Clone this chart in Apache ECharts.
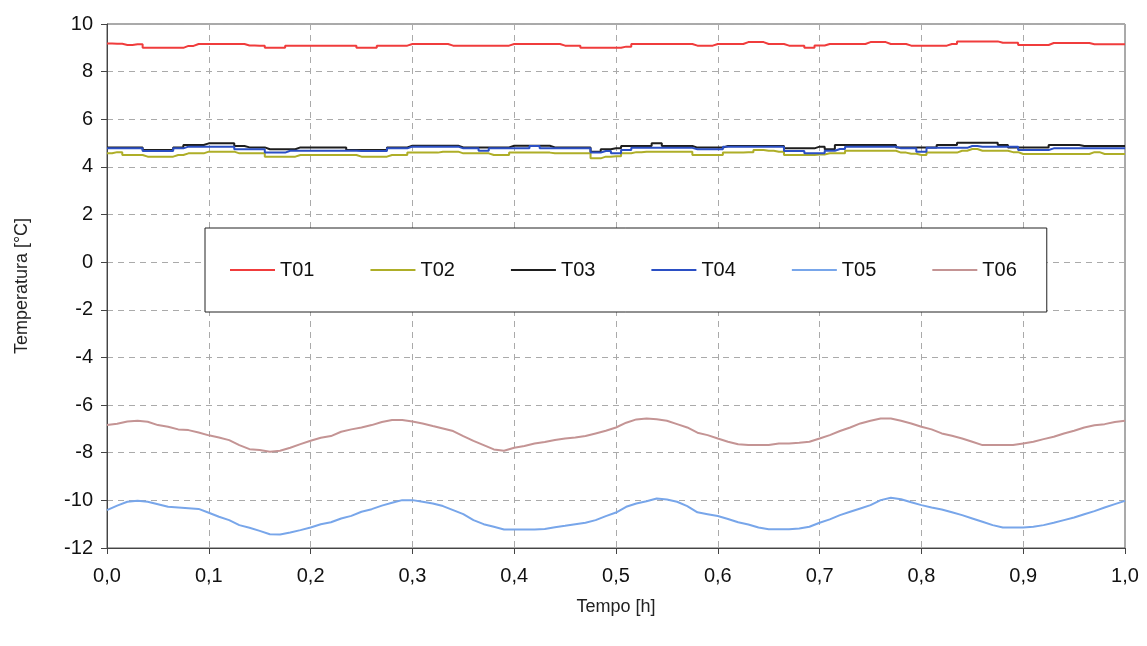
<!DOCTYPE html>
<html>
<head>
<meta charset="utf-8">
<script src="https://cdn.jsdelivr.net/npm/echarts@6/dist/echarts.min.js"></script>
<style>html,body{margin:0;padding:0;background:#fff;}#c{width:1147px;height:646px;}</style>
</head>
<body>
<div id="c"></div>
<script>
const times = [0.00,0.01,0.02,0.03,0.04,0.05,0.06,0.07,0.08,0.09,
0.10,0.11,0.12,0.13,0.14,0.15,0.16,0.17,0.18,0.19,
0.20,0.21,0.22,0.23,0.24,0.25,0.26,0.27,0.28,0.29,
0.30,0.31,0.32,0.33,0.34,0.35,0.36,0.37,0.38,0.39,
0.40,0.41,0.42,0.43,0.44,0.45,0.46,0.47,0.48,0.49,
0.50,0.51,0.52,0.53,0.54,0.55,0.56,0.57,0.58,0.59,
0.60,0.61,0.62,0.63,0.64,0.65,0.66,0.67,0.68,0.69,
0.70,0.71,0.72,0.73,0.74,0.75,0.76,0.77,0.78,0.79,
0.80,0.81,0.82,0.83,0.84,0.85,0.86,0.87,0.88,0.89,
0.90,0.91,0.92,0.93,0.94,0.95,0.96,0.97,0.98,0.99,1.00];

const T01 = [9.18,9.17,9.12,9.15,9.00,9.00,9.00,9.00,9.08,9.16,
9.16,9.16,9.16,9.16,9.10,9.09,9.00,9.00,9.09,9.09,
9.09,9.09,9.09,9.09,9.09,9.00,9.00,9.09,9.09,9.09,
9.16,9.16,9.16,9.16,9.09,9.09,9.09,9.09,9.09,9.09,
9.16,9.16,9.16,9.16,9.16,9.09,9.09,9.00,9.00,9.00,
9.00,9.05,9.16,9.16,9.16,9.16,9.16,9.16,9.09,9.09,
9.16,9.16,9.16,9.24,9.24,9.16,9.16,9.09,9.09,9.00,
9.10,9.16,9.16,9.16,9.16,9.24,9.24,9.16,9.16,9.09,
9.09,9.09,9.09,9.16,9.27,9.27,9.27,9.27,9.21,9.21,
9.12,9.12,9.12,9.20,9.20,9.20,9.20,9.15,9.15,9.15,9.15];

const T02 = [4.57,4.62,4.50,4.50,4.43,4.43,4.43,4.50,4.57,4.57,
4.64,4.64,4.64,4.57,4.57,4.57,4.43,4.43,4.43,4.50,
4.50,4.50,4.50,4.50,4.50,4.43,4.43,4.43,4.50,4.50,
4.60,4.60,4.60,4.64,4.64,4.57,4.57,4.57,4.50,4.50,
4.60,4.60,4.60,4.60,4.57,4.57,4.57,4.57,4.36,4.43,
4.45,4.57,4.62,4.64,4.64,4.64,4.64,4.64,4.50,4.50,
4.50,4.60,4.60,4.62,4.71,4.68,4.64,4.50,4.50,4.50,
4.52,4.57,4.57,4.68,4.68,4.68,4.68,4.68,4.60,4.55,
4.50,4.60,4.60,4.60,4.68,4.75,4.68,4.68,4.68,4.62,
4.54,4.54,4.54,4.54,4.54,4.54,4.54,4.62,4.54,4.54,4.54];

const T03 = [4.82,4.82,4.82,4.82,4.71,4.71,4.71,4.82,4.92,4.92,
4.99,4.99,4.99,4.88,4.82,4.82,4.74,4.74,4.74,4.82,
4.82,4.82,4.82,4.82,4.71,4.71,4.71,4.71,4.82,4.82,
4.89,4.89,4.89,4.89,4.89,4.82,4.82,4.82,4.82,4.82,
4.89,4.89,4.89,4.89,4.82,4.82,4.82,4.82,4.64,4.74,
4.78,4.88,4.88,4.88,4.99,4.88,4.88,4.88,4.81,4.81,
4.81,4.88,4.88,4.88,4.88,4.88,4.88,4.78,4.78,4.78,
4.85,4.74,4.92,4.92,4.92,4.92,4.92,4.92,4.82,4.82,
4.82,4.82,4.92,4.92,5.01,5.01,5.01,5.01,4.92,4.82,
4.82,4.82,4.82,4.92,4.92,4.92,4.88,4.88,4.88,4.88,4.88];

const T04 = [4.78,4.78,4.78,4.78,4.67,4.67,4.67,4.78,4.85,4.85,
4.85,4.85,4.85,4.74,4.74,4.74,4.60,4.60,4.68,4.68,
4.68,4.68,4.68,4.68,4.68,4.67,4.67,4.67,4.78,4.78,
4.85,4.85,4.85,4.85,4.85,4.78,4.78,4.68,4.78,4.78,
4.78,4.78,4.88,4.78,4.78,4.78,4.78,4.78,4.60,4.67,
4.57,4.71,4.80,4.80,4.80,4.80,4.80,4.80,4.74,4.74,
4.74,4.85,4.85,4.85,4.85,4.85,4.85,4.67,4.67,4.57,
4.57,4.68,4.75,4.85,4.85,4.85,4.85,4.85,4.78,4.78,
4.64,4.80,4.80,4.80,4.80,4.88,4.85,4.85,4.85,4.85,
4.71,4.71,4.71,4.78,4.78,4.78,4.78,4.78,4.78,4.78,4.78];

const T05 = [-10.41,-10.22,-10.06,-10.02,-10.06,-10.16,-10.27,-10.30,-10.33,-10.36,
-10.52,-10.69,-10.83,-11.04,-11.15,-11.28,-11.42,-11.43,-11.35,-11.25,
-11.14,-11.00,-10.92,-10.76,-10.65,-10.48,-10.37,-10.22,-10.10,-9.99,
-9.99,-10.06,-10.13,-10.24,-10.41,-10.58,-10.83,-11.00,-11.11,-11.22,
-11.22,-11.22,-11.22,-11.20,-11.13,-11.07,-11.00,-10.94,-10.83,-10.66,
-10.51,-10.27,-10.13,-10.04,-9.92,-9.96,-10.06,-10.24,-10.50,-10.58,
-10.66,-10.78,-10.92,-11.01,-11.14,-11.21,-11.21,-11.21,-11.18,-11.11,
-10.94,-10.80,-10.62,-10.48,-10.34,-10.20,-9.99,-9.89,-9.95,-10.08,
-10.20,-10.30,-10.38,-10.50,-10.62,-10.76,-10.90,-11.04,-11.14,-11.14,
-11.14,-11.11,-11.04,-10.94,-10.83,-10.72,-10.58,-10.45,-10.30,-10.16,-10.02];

const T06 = [-6.84,-6.78,-6.69,-6.66,-6.70,-6.84,-6.91,-7.02,-7.05,-7.15,
-7.27,-7.36,-7.47,-7.68,-7.85,-7.89,-7.96,-7.92,-7.79,-7.64,
-7.50,-7.37,-7.30,-7.12,-7.02,-6.94,-6.84,-6.71,-6.63,-6.63,
-6.69,-6.77,-6.88,-6.98,-7.09,-7.30,-7.50,-7.68,-7.86,-7.92,
-7.79,-7.72,-7.61,-7.55,-7.47,-7.40,-7.36,-7.30,-7.19,-7.08,
-6.94,-6.74,-6.60,-6.56,-6.59,-6.66,-6.80,-6.94,-7.16,-7.26,
-7.40,-7.54,-7.64,-7.68,-7.68,-7.68,-7.61,-7.61,-7.58,-7.54,
-7.40,-7.26,-7.09,-6.94,-6.77,-6.66,-6.56,-6.56,-6.66,-6.77,
-6.91,-7.02,-7.19,-7.29,-7.40,-7.54,-7.68,-7.68,-7.68,-7.68,
-7.61,-7.54,-7.43,-7.33,-7.19,-7.08,-6.94,-6.85,-6.80,-6.71,-6.66];

const seriesNames = ['T01','T02','T03','T04','T05','T06'];
const seriesValues = [T01, T02, T03, T04, T05, T06];
const seriesColors = ['#f03c3c','#aeae28','#1e1e1e','#2b4fc4','#78a6ea','#c49494'];
const seriesStep = [true, true, true, true, false, false];

const FONT = '"Liberation Sans", Arial, sans-serif';

const chart = echarts.init(document.getElementById('c'), null, {renderer: 'canvas'});
chart.setOption({
  backgroundColor: '#ffffff',
  animation: false,
  grid: {left: 107, right: 22, top: 24, bottom: 98, show: true, borderColor: '#555', borderWidth: 1, backgroundColor: 'transparent'},
  legend: {
    left: 205, top: 228,
    padding: [32, 30, 32, 25],
    itemGap: 56, itemWidth: 45, itemHeight: 2,
    icon: 'rect',
    backgroundColor: '#ffffff', borderColor: '#222', borderWidth: 1,
    textStyle: {fontFamily: FONT, fontSize: 20, color: '#111', padding: [0,0,0,0]},
    data: seriesNames
  },
  xAxis: {
    type: 'value', min: 0, max: 1, interval: 0.1,
    name: 'Tempo [h]', nameLocation: 'middle', nameGap: 50,
    nameTextStyle: {fontFamily: FONT, fontSize: 18, color: '#222'},
    axisLine: {show: true, onZero: false, lineStyle: {color: '#444', width: 1}},
    axisTick: {show: true, length: 6, lineStyle: {color: '#444'}},
    axisLabel: {fontFamily: FONT, fontSize: 20, color: '#111', margin: 18,
      formatter: v => v.toFixed(1).replace('.', ',')},
    splitLine: {show: true, lineStyle: {color: '#aaa', type: [6, 5], width: 1}}
  },
  yAxis: {
    type: 'value', min: -12, max: 10, interval: 2,
    name: 'Temperatura [°C]', nameLocation: 'middle', nameGap: 76, nameRotate: 90,
    nameTextStyle: {fontFamily: FONT, fontSize: 18, color: '#222'},
    axisLine: {show: true, onZero: false, lineStyle: {color: '#444', width: 1}},
    axisTick: {show: true, length: 6, lineStyle: {color: '#444'}},
    axisLabel: {fontFamily: FONT, fontSize: 20, color: '#111', margin: 14},
    splitLine: {show: true, lineStyle: {color: '#aaa', type: [6, 5], width: 1}}
  },
  series: seriesNames.map((n, i) => ({
    name: n, type: 'line', showSymbol: false, symbol: 'none',
    step: seriesStep[i] ? 'middle' : false,
    data: times.map((t, j) => [t, seriesValues[i][j]]),
    lineStyle: {color: seriesColors[i], width: 2},
    itemStyle: {color: seriesColors[i]}
  }))
});
</script>
</body>
</html>
